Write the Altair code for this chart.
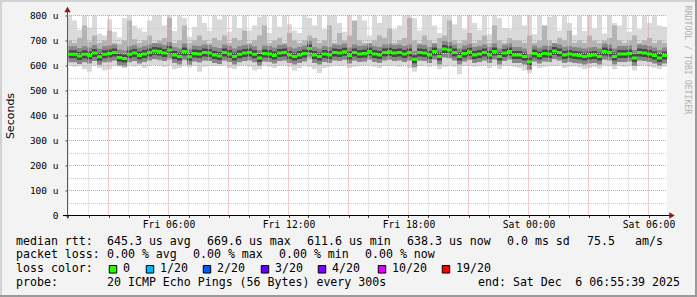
import altair as alt
import pandas as pd

# ---------------- data ----------------
N = 120
START_H = 0.925      # hours after Fri 00:00  (Fri 00:55:30)
STEP_H = 0.25        # 15-minute columns
SPAN_H = 30

median_us = [645,645,638,645,640,650,635,645,648,652,632,628,645,650,640,646,652,658,656,650,662,642,636,656,635,648,646,652,650,642,
             638,652,646,636,645,650,652,645,630,648,646,640,650,652,642,636,642,648,668,642,636,646,642,652,650,655,640,652,646,648,
             656,646,642,652,655,650,652,646,652,625,652,650,642,656,636,666,662,652,636,648,655,642,646,652,642,656,636,650,656,642,
             642,636,615,648,640,648,646,658,652,642,646,642,640,636,640,642,636,656,652,636,646,646,648,630,652,650,646,640,630,640]
min_us = [600,595,598,585,575,600,590,580,585,598,595,590,600,596,600,590,598,602,600,595,600,585,590,600,592,598,575,595,600,598,
          598,600,590,585,598,600,595,580,585,600,596,590,598,600,595,580,590,600,595,585,570,590,595,600,598,600,590,595,598,600,
          600,595,590,598,600,598,595,600,590,575,598,600,595,600,585,595,600,595,565,598,600,595,598,600,590,600,585,598,600,595,
          590,580,570,598,590,595,600,598,600,590,595,598,592,585,590,595,588,600,598,585,598,595,600,580,598,600,595,590,585,595]
low_us = [620,618,615,622,610,620,615,618,612,620,610,605,618,620,615,620,622,625,620,618,622,615,610,620,612,618,610,620,618,615,
          615,620,618,610,618,620,622,618,605,620,618,612,620,622,615,610,615,620,625,615,610,618,615,622,620,625,612,620,618,620,
          625,618,615,622,625,620,622,618,622,600,620,620,615,625,610,630,628,622,610,618,625,615,618,622,615,625,610,620,625,615,
          615,610,598,620,612,618,618,625,622,615,618,615,612,610,612,615,610,625,622,610,618,618,620,605,622,620,618,612,605,612]
upper_us = [700,690,710,760,695,720,690,700,740,690,685,700,780,705,690,700,720,690,700,710,790,690,700,760,690,700,720,700,690,710,
            700,720,690,710,700,740,690,700,720,760,690,700,710,690,730,700,690,700,720,710,690,700,760,690,730,700,720,780,700,690,
            690,700,720,710,750,690,700,710,790,700,690,720,700,690,710,720,780,700,690,700,730,690,700,720,690,760,700,690,710,700,
            700,690,720,690,700,760,700,690,710,700,740,690,700,690,720,700,690,700,710,760,700,690,700,720,690,700,710,690,700,690]
max_us = [810,780,742,810,752,800,728,720,785,735,712,790,805,760,745,735,780,810,805,760,810,738,810,790,715,755,810,770,740,800,
          785,810,735,800,750,810,740,760,795,810,730,800,755,810,765,740,730,810,790,760,810,745,800,810,770,735,810,740,810,780,
          720,810,770,800,810,745,760,810,810,790,740,800,810,760,730,810,810,765,810,745,810,770,742,810,725,810,790,750,745,800,
          810,760,810,725,810,745,795,810,740,810,770,722,800,738,810,748,810,728,810,770,760,810,735,810,745,810,770,810,760,755]

y_ticks = [0, 100, 200, 300, 400, 500, 600, 700, 800]
y_minor = [50, 150, 250, 350, 450, 550, 650, 750]
x_hours = list(range(1, 31))
x_major = [h for h in x_hours if h % 3 == 0]
x_minor = [h for h in x_hours if h % 3 != 0]

loss_labels = ["0", "1/20", "2/20", "3/20", "4/20", "10/20", "19/20"]
loss_colors = ["#26ff00", "#00b8ff", "#0059ff", "#5e00ff", "#7e00ff", "#dd00ff", "#ff0000"]
box_left = [109, 146, 203, 261, 318, 378, 442]

legend_rows = [
    [("median rtt:", 16), ("645.3 us avg", 107), ("669.6 us max", 207), ("611.6 us min", 307),
     ("638.3 us now", 407), ("0.0 ms sd", 507), ("75.5", 587), ("am/s", 635)],
    [("packet loss:", 16), ("0.00 % avg", 107), ("0.00 % max", 193), ("0.00 % min", 279), ("0.00 % now", 365)],
    [("loss color:", 16)],
    [("probe:", 16), ("20 ICMP Echo Pings (56 Bytes) every 300s", 107), ("end: Sat Dec", 478)],
]
row_y = [241.7, 255.0, 269.3, 283.3]

# ---------------- layout constants ----------------
PL, PT = 67, 15.5
W, H = 600, 200
MONO = "DejaVu Sans Mono"

t0 = [START_H + STEP_H * i for i in range(N)]
t1 = [t + STEP_H for t in t0]
df = pd.DataFrame(dict(t0=t0, t1=t1, med=median_us, lo=min_us, q1=low_us, up=upper_us, hi=max_us))

xs = alt.Scale(domain=[START_H, START_H + SPAN_H], nice=False, zero=False)
ys = alt.Scale(domain=[0, 800], nice=False, zero=False)

x_axis = alt.Axis(values=x_hours, tickSize=2, tickColor="#444", domain=False, grid=False,
                  labelExpr="datum.value % 6 == 0 ? ((datum.value < 24 ? 'Fri ' : 'Sat ') + (datum.value % 24 < 10 ? '0' : '') + (datum.value % 24) + ':00') : ''",
                  labelFont=MONO, labelFontSize=9.7, labelColor="black", labelPadding=2,
                  labelOverlap=False, labelFlush=False, title=None)
y_axis = alt.Axis(values=y_ticks, tickSize=2, tickColor="#444", domain=False, grid=False,
                  labelExpr="datum.value == 0 ? '0' : datum.value + ' u'",
                  labelFont=MONO, labelFontSize=9.5, labelColor="black", labelPadding=7,
                  title="Seconds", titleFont="DejaVu Sans", titleFontSize=11, titleFontWeight="normal",
                  titleColor="black", titleX=-57, titleY=100, titleAngle=270, titleAlign="center",
                  titleBaseline="middle")


def X(f):
    return alt.X(f, scale=xs, axis=x_axis)


def Y(f):
    return alt.Y(f, scale=ys, axis=y_axis)


base = alt.Chart(df)
light = base.mark_rect(color="#dadada", clip=True).encode(x=X("t0:Q"), x2="t1:Q", y=Y("lo:Q"), y2="hi:Q")
mid = base.mark_rect(color="#b3b3b3", clip=True).encode(x=X("t0:Q"), x2="t1:Q", y=Y("q1:Q"), y2="up:Q")
core1 = base.mark_rule(color="#878787", strokeWidth=16).encode(x=X("t0:Q"), x2="t1:Q", y=Y("med:Q"))
core2 = base.mark_rule(color="#484848", strokeWidth=8).encode(x=X("t0:Q"), x2="t1:Q", y=Y("med:Q"))
green = base.mark_rule(color="#26ff00", strokeWidth=3).encode(x=X("t0:Q"), x2="t1:Q", y=Y("med:Q"))


def vgrid(vals, color):
    return alt.Chart(pd.DataFrame({"v": vals})).mark_rule(color=color, strokeDash=[1, 1], strokeWidth=1).encode(
        x=X("v:Q"), y=alt.value(0), y2=alt.value(H))


def hgrid(vals, color, off=0.0):
    return alt.Chart(pd.DataFrame({"v": vals})).mark_rule(color=color, strokeDash=[1, 1], strokeWidth=1,
                                                          yOffset=off).encode(
        y=Y("v:Q"), x=alt.value(0), x2=alt.value(W))


one = alt.Data(values=[{}])


def rule(x, x2, y, y2, color, width):
    return alt.Chart(one).mark_rule(color=color, strokeWidth=width).encode(
        x=alt.value(x), x2=alt.value(x2), y=alt.value(y), y2=alt.value(y2))


def text(s, x, y, size=11.6, color="black", align="left", angle=0, font=MONO):
    return alt.Chart(one).mark_text(text=s, font=font, fontSize=size, color=color, align=align,
                                    baseline="middle", angle=angle).encode(
        x=alt.value(x), y=alt.value(y))


layers = [light, mid, core1, core2,
          vgrid(x_minor, "#cccccc"), hgrid(y_minor, "#cccccc", 0.5),
          vgrid(x_major, "#e09a9a"), hgrid(y_ticks[1:], "#e09a9a"),
          green,
          rule(0.5, 0.5, -4, H + 3, "#5a5a5a", 1),
          rule(-4, W + 3, H, H, "black", 1)]

# arrows
layers.append(alt.Chart(one).mark_point(shape="triangle-up", filled=True, color="#8b1a1a", size=40, opacity=1).encode(
    x=alt.value(0.5), y=alt.value(-6)))
layers.append(alt.Chart(one).mark_point(shape="triangle-right", filled=True, color="#8b1a1a", size=40, opacity=1).encode(
    x=alt.value(W + 5), y=alt.value(H)))

# legend text
for row, yy in zip(legend_rows, row_y):
    for s, xx in row:
        layers.append(text(s, xx - PL, yy - PT))
layers.append(text("6 06:55:39 2025", 680 - PL, row_y[3] - PT, align="right"))

# loss colour boxes
for lab, col, bl in zip(loss_labels, loss_colors, box_left):
    layers.append(alt.Chart(one).mark_point(shape="square", filled=True, fill=col, stroke="black", strokeWidth=1,
                                            size=56, opacity=1).encode(
        x=alt.value(bl + 4 - PL), y=alt.value(row_y[2] - PT)))
    layers.append(text(lab, bl + 14 - PL, row_y[2] - PT))

# watermark
layers.append(text("RRDTOOL / TOBI OETIKER", 686.5 - PL, 60 - PT, size=8.2, color="#b0b0b0",
                   align="center", angle=90))

# 3-D frame
layers += [rule(-PL + 1, 697 - PL, -PT + 1, -PT + 1, "#d3d3d3", 2),
           rule(-PL + 1, -PL + 1, -PT, 297 - PT, "#d3d3d3", 2),
           rule(697 - PL - 1, 697 - PL - 1, -PT, 297 - PT, "#9a9a9a", 2),
           rule(-PL, 697 - PL, 297 - PT - 1, 297 - PT - 1, "#9a9a9a", 2)]

chart = alt.layer(*layers).properties(
    width=W, height=H,
    autosize=alt.AutoSizeParams(type="none"),
    padding={"left": PL, "top": PT, "right": 697 - PL - W, "bottom": 297 - PT - H},
    background="#f3f3f3",
).configure_view(stroke=None, fill="white")

chart.save("out.html", embed_options={"renderer": "svg", "actions": False})
